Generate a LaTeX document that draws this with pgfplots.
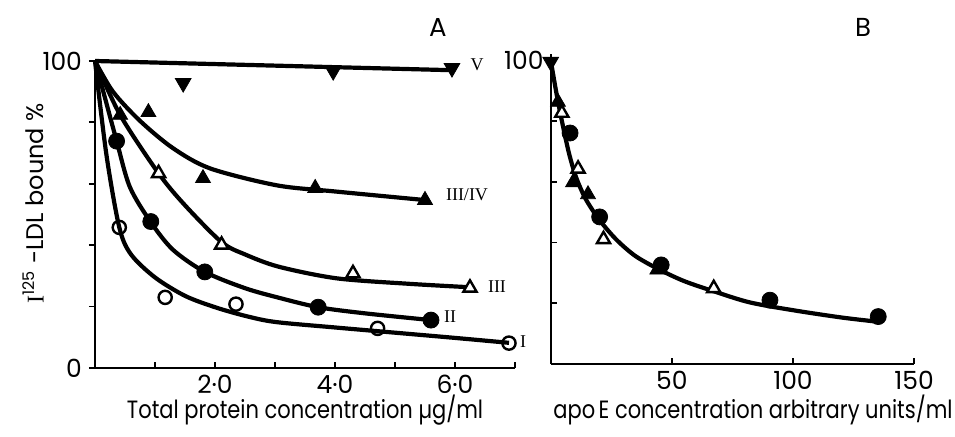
\documentclass[border=0pt]{standalone}
\usepackage{pgfplots}
\pgfplotsset{compat=1.18}
\usepackage{graphicx}
\usepackage{fontspec}
\setmainfont{Poppins}
\newfontfamily\serif{Liberation Serif}

\begin{document}
\begin{tikzpicture}
\path[use as bounding box] (0,0) rectangle (477.5pt,218.5pt);
\pgfplotsset{
  base/.style={
    scale only axis, clip=false,
    axis x line=bottom, axis y line=left,
    axis line style={-, line width=1pt},
    every tick/.style={black, line width=0.9pt},
    major tick length=3pt,
    ymin=0, xmin=0,
    tick label style={font=\fontsize{12.5}{14}\selectfont},
    /pgf/number format/assume math mode=true,
  },
  curve/.style={black, line width=2.1pt, smooth, tension=0.5, no marks},
  fc/.style={only marks, mark=*, mark size=4pt, mark options={fill=black, draw=black}},
  oc/.style={only marks, mark=o, mark size=3.3pt, mark options={fill=white, draw=black, line width=1.2pt}},
  ft/.style={only marks, mark=triangle*, mark size=4.3pt, mark options={fill=black, draw=black}},
  ot/.style={only marks, mark=triangle*, mark size=3.8pt, mark options={fill=white, draw=black, line width=1.2pt}},
  fd/.style={only marks, mark=triangle*, mark size=4.5pt, mark options={fill=black, draw=black, rotate=180}},
}
% ---------------- Panel A ----------------
\begin{axis}[base,
  at={(47.5pt,34.5pt)}, anchor=south west,
  width=210pt, height=153.5pt,
  xmax=70, ymax=100,
  xtick={10,20,30,40,50,60,70},
  xticklabels={,2·0,,4·0,,6·0,},
  ytick={0,20,40,60,80,100},
  yticklabels={0,,,,,100},
  xtick align=inside, ytick align=outside,
]
% fitted curves
\addplot[curve] coordinates {(0,100) (59.5,97)};
\addplot[curve] coordinates {(0,100) (3,90) (7.5,80.5) (13,71.6) (19.2,65) (30.3,59.5) (40,57.5) (55,54.7)};
\addplot[curve] coordinates {(0,100) (4.2,82.4) (10.6,63.4) (15,53) (21.1,41) (25,37) (30.6,33) (40.3,29.2) (52.5,27.4) (62.5,26.3)};
\addplot[curve] coordinates {(0,100) (1.8,87) (3.6,74) (5.8,59) (9.3,47.5) (13,38.5) (18.3,31.3) (25,26) (30.6,22.9) (37.2,19.8) (45,17.8) (56,15.6)};
\addplot[curve] coordinates {(0,100) (1.9,69.5) (4.05,45.8) (6,37) (10,29.5) (15,23.5) (20,19.8) (25,17) (30,15) (40,13.2) (50,11.5) (60,9.8) (69,8.2)};
% data points
\addplot[fd] coordinates {(14.7,92.8) (39.7,96.7) (59.5,97.7)};
\addplot[ft] coordinates {(4.2,82.4) (8.9,83.3) (18,61.8) (36.7,58.6) (55,54.7)};
\addplot[ot] coordinates {(10.6,63.4) (21.1,40.1) (43,30.8) (62.5,26.1)};
\addplot[fc] coordinates {(3.6,73.9) (9.3,47.7) (18.3,31.3) (37.2,19.8) (56,15.6)};
\addplot[oc] coordinates {(4.05,45.8) (11.7,23) (23.5,20.8) (47.1,12.9) (69,8.1)};
\end{axis}
% ---------------- Panel B ----------------
\begin{axis}[base,
  at={(275.35pt,36.5pt)}, anchor=south west,
  width=181.7pt, height=155pt,
  xmax=150, ymax=102,
  xtick={50,100,150},
  ytick={20,40,60,80,100},
  yticklabels={,,,,100},
  tick align=inside,
]
\addplot[curve] coordinates {(0,100) (2.5,88.5) (5,78.5) (7.5,69.5) (10,62.5) (12.5,57.5) (15,53.5) (20,47.5) (27,41) (35,35.5) (45,31) (55,27.3) (67,24) (82,20.3) (100,17.7) (120,15.3) (135,13.9)};
\addplot[fd] coordinates {(0,99.4)};
\addplot[ft] coordinates {(3,86.2) (9.2,59.7) (15.4,55.8) (44,31)};
\addplot[ot] coordinates {(4.6,82.6) (11.3,64.2) (21.8,41) (67.3,24.9)};
\addplot[fc] coordinates {(8,76) (20.2,48.4) (45.6,32.6) (90.5,21) (135.2,15.6)};
\end{axis}
% ---------------- labels ----------------
\node[font=\fontsize{13}{15}\selectfont] at (219pt,204.5pt) {A};
\node[font=\fontsize{13}{15}\selectfont] at (431.5pt,205pt) {B};
\node[rotate=90, font=\fontsize{12}{14}\selectfont] at (16.75pt,116.75pt) {{\serif I}\textsuperscript{125} -LDL bound \%};
\node[font=\fontsize{12.5}{14}\selectfont] at (152.5pt,13.5pt) {\scalebox{0.84}[1]{Total protein concentration µg/ml}};
\node[font=\fontsize{12.5}{14}\selectfont] at (376.5pt,13.5pt) {\scalebox{0.84}[1]{apo\,E concentration arbitrary units/ml}};
\node[font=\serif\fontsize{9}{11}\selectfont] at (238.5pt,186pt) {V};
\node[font=\serif\fontsize{9}{11}\selectfont] at (233.5pt,121pt) {III/IV};
\node[font=\serif\fontsize{9}{11}\selectfont] at (248.5pt,75pt) {III};
\node[font=\serif\fontsize{9}{11}\selectfont] at (225pt,60pt) {II};
\node[font=\serif\fontsize{9}{11}\selectfont] at (261.5pt,47.5pt) {I};
\end{tikzpicture}
\end{document}
